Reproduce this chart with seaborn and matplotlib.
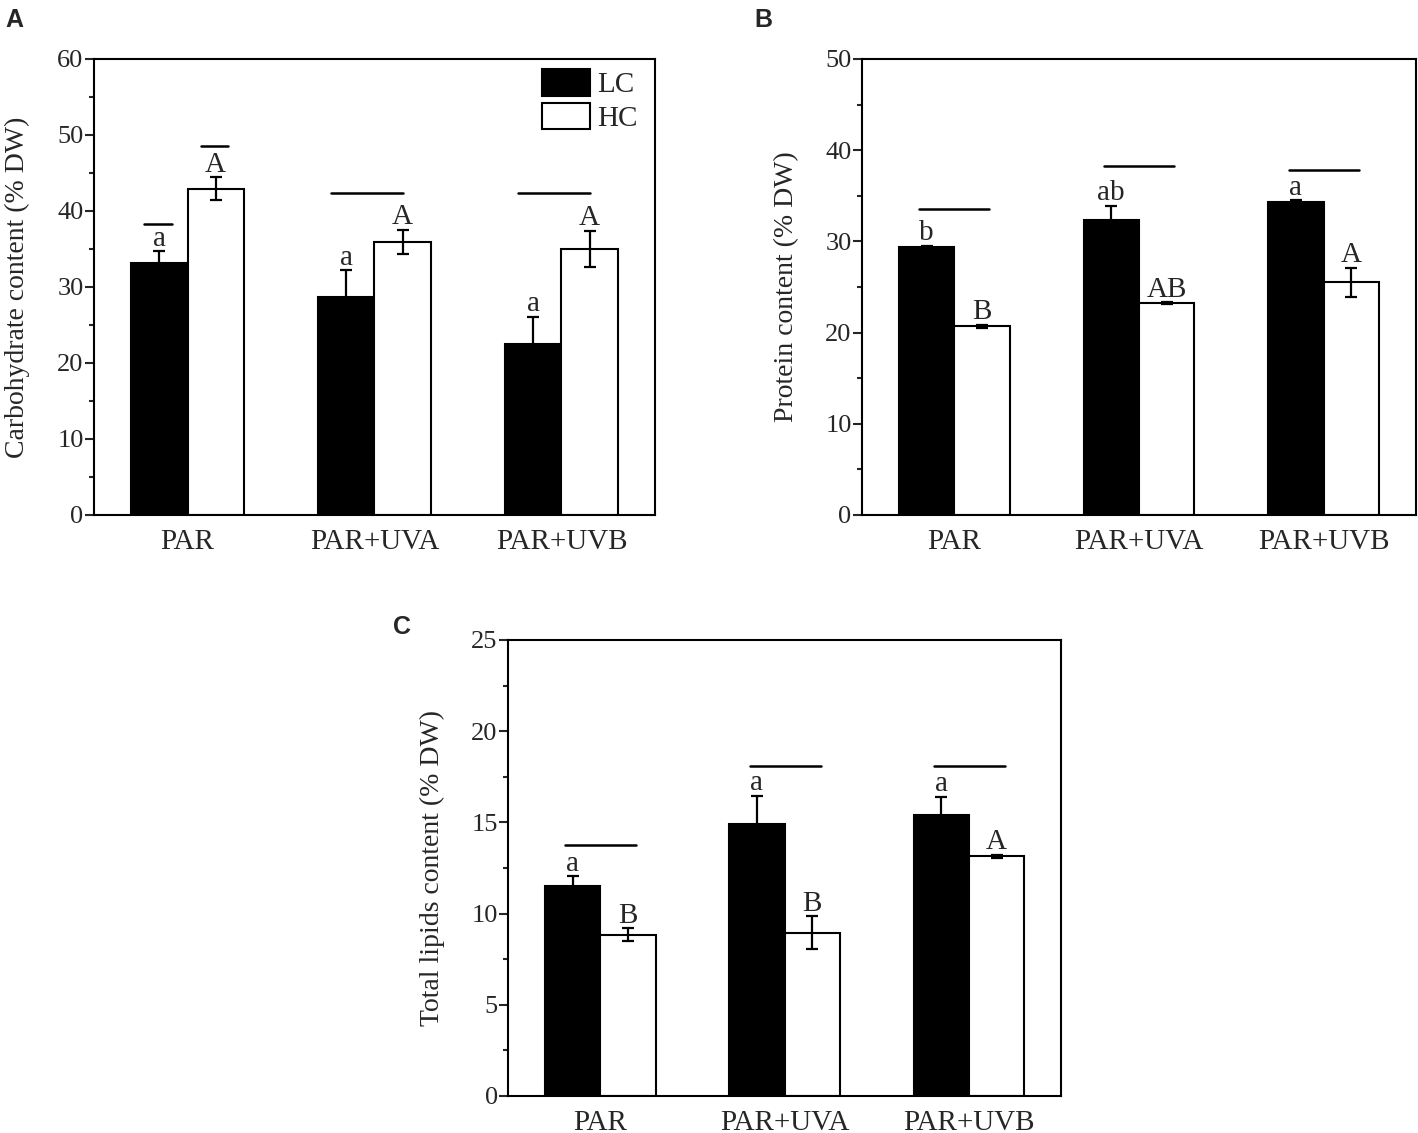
import matplotlib
matplotlib.use("Agg")
import matplotlib.pyplot as plt
import seaborn as sns
import pandas as pd
from matplotlib.patches import Patch
from matplotlib.ticker import MultipleLocator

# values (% DW)
categories = ["PAR", "PAR+UVA", "PAR+UVB"]

carb_lc = [33.1, 28.7, 22.5]
carb_lc_err = [1.6, 3.5, 3.6]
carb_hc = [42.9, 35.9, 35.0]
carb_hc_err = [1.5, 1.6, 2.4]
carb_lc_letters = ["a", "a", "a"]
carb_hc_letters = ["A", "A", "A"]
# significance bars: (category index, height, which bars it spans)
carb_sig = [(0, 38.3, "LC"), (0, 48.5, "HC"), (1, 42.3, "both"), (2, 42.3, "both")]

protein_lc = [29.4, 32.3, 34.3]
protein_lc_err = [0.1, 1.6, 0.2]
protein_hc = [20.7, 23.2, 25.5]
protein_hc_err = [0.15, 0.1, 1.6]
protein_lc_letters = ["b", "ab", "a"]
protein_hc_letters = ["B", "AB", "A"]
protein_sig = [(0, 33.5, "both"), (1, 38.3, "both"), (2, 37.8, "both")]

lipid_lc = [11.5, 14.9, 15.4]
lipid_lc_err = [0.55, 1.55, 1.0]
lipid_hc = [8.85, 8.95, 13.15]
lipid_hc_err = [0.33, 0.9, 0.08]
lipid_lc_letters = ["a", "a", "a"]
lipid_hc_letters = ["B", "B", "A"]
lipid_sig = [(0, 13.77, "both"), (1, 18.1, "both"), (2, 18.1, "both")]

sns.set_style("ticks")
plt.rcParams["font.family"] = ["Liberation Serif", "DejaVu Serif"]
plt.rcParams["axes.linewidth"] = 1.5


def draw_panel(ax, lc, hc, lc_err, hc_err, lc_let, hc_let, sig, ymax, major, ylabel, both_pad):
    df = pd.DataFrame({
        "treatment": categories * 2,
        "co2": ["LC"] * len(categories) + ["HC"] * len(categories),
        "value": lc + hc,
    })
    sns.barplot(data=df, x="treatment", y="value", hue="co2", hue_order=["LC", "HC"],
                palette={"LC": "black", "HC": "white"}, saturation=1, width=0.6, gap=0,
                edgecolor="black", linewidth=1.5, errorbar=None, legend=False, ax=ax)

    centers = []
    for cont, err, lets in zip(ax.containers, [lc_err, hc_err], [lc_let, hc_let]):
        xs = [p.get_x() + p.get_width() / 2 for p in cont]
        ys = [p.get_height() for p in cont]
        centers.append(xs)
        ax.errorbar(xs, ys, yerr=err, fmt="none", ecolor="black", elinewidth=1.6,
                    capsize=4, capthick=1.6, zorder=3)
        for x, y, e, t in zip(xs, ys, err, lets):
            ax.annotate(t, (x, y + e), xytext=(0, 4), textcoords="offset points",
                        ha="center", va="baseline", fontsize=21)

    lc_x, hc_x = centers
    for i, y, span in sig:
        if span == "LC":
            x0, x1 = lc_x[i] - 0.085, lc_x[i] + 0.065
        elif span == "HC":
            x0, x1 = hc_x[i] - 0.08, hc_x[i] + 0.068
        else:
            x0, x1 = lc_x[i] - both_pad[0], hc_x[i] + both_pad[1]
        ax.plot([x0, x1], [y, y], color="black", lw=1.8)

    ax.set_xlim(-0.5, 2.5)
    ax.set_ylim(0, ymax)
    ax.yaxis.set_major_locator(MultipleLocator(major))
    ax.yaxis.set_minor_locator(MultipleLocator(major / 2))
    ax.tick_params(axis="y", which="major", length=6.5, width=1.5, pad=1, labelsize=19)
    ax.tick_params(axis="y", which="minor", length=3.5, width=1.5)
    ax.tick_params(axis="x", length=0, pad=10, labelsize=21)
    for s in ax.spines.values():
        s.set_visible(True)
        s.set_linewidth(1.5)
        s.set_color("black")
    ax.set_xlabel("")
    ax.set_ylabel(ylabel, fontsize=20)
    ax.yaxis.set_label_coords(-0.114, 0.5)


fig = plt.figure(figsize=(14.18, 11.33), dpi=100)
ax_a = fig.add_axes([0.0663, 0.5455, 0.3956, 0.4025])
ax_b = fig.add_axes([0.6079, 0.5455, 0.3907, 0.4025])
ax_c = fig.add_axes([0.3583, 0.0327, 0.3900, 0.4025])

draw_panel(ax_a, carb_lc, carb_hc, carb_lc_err, carb_hc_err, carb_lc_letters, carb_hc_letters,
           carb_sig, 60, 10, "Carbohydrate content (% DW)", (0.085, 0.0))
draw_panel(ax_b, protein_lc, protein_hc, protein_lc_err, protein_hc_err, protein_lc_letters,
           protein_hc_letters, protein_sig, 50, 10, "Protein content (% DW)", (0.04, 0.04))
draw_panel(ax_c, lipid_lc, lipid_hc, lipid_lc_err, lipid_hc_err, lipid_lc_letters,
           lipid_hc_letters, lipid_sig, 25, 5, "Total lipids content (% DW)", (0.04, 0.045))

handles = [Patch(facecolor="black", edgecolor="black", linewidth=1.5),
           Patch(facecolor="white", edgecolor="black", linewidth=1.5)]
ax_a.legend(handles, ["LC", "HC"], loc="upper right", bbox_to_anchor=(0.97, 0.977),
            frameon=False, fontsize=21, handlelength=1.65, handleheight=1.0,
            labelspacing=0.15, handletextpad=0.25, borderaxespad=0, borderpad=0)

for label, x, y in [("A", 0.004, 0.993), ("B", 0.532, 0.993), ("C", 0.277, 0.457)]:
    fig.text(x, y, label, ha="left", va="top", fontsize=18, fontweight="bold",
             family="Liberation Sans")

fig.savefig("out.png", dpi=100)
